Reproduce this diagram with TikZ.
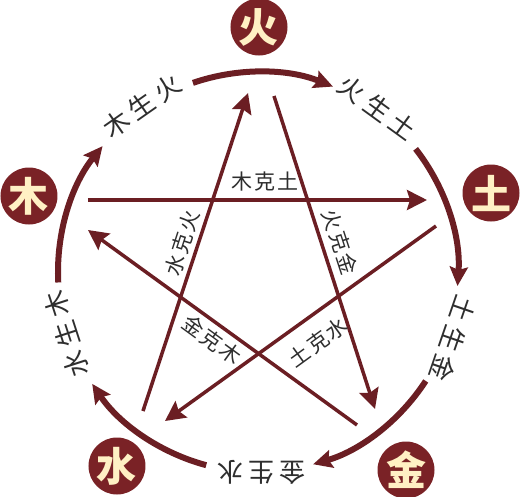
\documentclass[tikz,border=0pt]{standalone}
\usepackage{fontspec}
\usepackage{xcolor}
\usetikzlibrary{arrows.meta}
\newfontfamily\cjk{Noto Sans CJK SC}
\newfontfamily\cjkarc[LetterSpace=20]{Noto Sans CJK SC}
\newfontfamily\cjkke[LetterSpace=10]{Noto Sans CJK SC}
\definecolor{wxfill}{HTML}{7A2226}
\definecolor{wxline}{HTML}{6B1E23}
\definecolor{wxtext}{HTML}{FFF0C4}
\definecolor{wxlabel}{HTML}{2E2E2E}
\tikzstyle{element} = [circle, minimum size=57pt, inner sep=0pt, fill=wxfill, text=wxtext, font=\cjk\bfseries\fontsize{40}{40}\selectfont]
\tikzstyle{sheng} = [line width=6pt, draw=wxline, -{Stealth[length=19pt,width=18pt,inset=3pt]}]
\tikzstyle{ke} = [line width=3.5pt, draw=wxline, -{Stealth[length=20pt,width=20pt,inset=3pt]}]
\tikzstyle{shenglabel} = [inner sep=0pt, text=wxlabel, font=\cjkarc\fontsize{26}{26}\selectfont]
\tikzstyle{kelabel} = [inner sep=0pt, text=wxlabel, font=\cjkke\fontsize{21}{21}\selectfont]

\begin{document}
\begin{tikzpicture}[x=1pt, y=1pt]
\useasboundingbox[fill=white] (-258,-224) rectangle (272,272);

\node (huo) [element] at (1,245) {火};
\node (mu) [element] at (-229,76) {木};
\node (tu) [element] at (233,79) {土};
\node (shui) [element] at (-141,-194) {水};
\node (jin) [element] at (148,-198) {金};

\coordinate (muhuo) at (183:200);
\coordinate (huotu) at (109:200);
\coordinate (tujin) at (38:200);
\coordinate (jinshui) at (-33:200);
\coordinate (shuimu) at (-105:200);
\draw [sheng] (muhuo) arc[start angle=183, end angle=141, radius=200pt];
\draw [sheng] (huotu) arc[start angle=109, end angle=68, radius=200pt];
\draw [sheng] (tujin) arc[start angle=38, end angle=-4, radius=200pt];
\draw [sheng] (jinshui) arc[start angle=-33, end angle=-74, radius=200pt];
\draw [sheng] (shuimu) arc[start angle=-105, end angle=-146, radius=200pt];

\node (muhuolabel) [shenglabel, rotate=35] at (125:203) {木生火};
\node (huotulabel) [shenglabel, rotate=-36] at (54:203) {火生土};
\node (tujinlabel) [shenglabel, rotate=-109] at (-19:206) {土生金};
\node (jinshuilabel) [shenglabel, rotate=-180] at (-89:201) {金生水};
\node (shuimulabel) [shenglabel, rotate=108] at (-162:201) {水生木};

\coordinate (mustart) at (-170,72);
\coordinate (tuend) at (169,72);
\coordinate (shuistart) at (-115,-139);
\coordinate (huoend) at (-10,179);
\coordinate (huostart) at (16,176);
\coordinate (jinend) at (117,-137);
\coordinate (tustart) at (178,46);
\coordinate (shuiend) at (-93,-149);
\coordinate (jinstart) at (99,-153);
\coordinate (muend) at (-170,42);
\draw [ke] (mustart) -- (tuend);
\draw [ke] (shuistart) -- (huoend);
\draw [ke] (huostart) -- (jinend);
\draw [ke] (tustart) -- (shuiend);
\draw [ke] (jinstart) -- (muend);

\node (mutulabel) [kelabel] at (7,90) {木克土};
\node (shuihuolabel) [kelabel, rotate=72] at (-76,29) {水克火};
\node (huojinlabel) [kelabel, rotate=-72] at (82,30) {火克金};
\node (jinmulabel) [kelabel, rotate=-36] at (-46,-68) {金克木};
\node (tushuilabel) [kelabel, rotate=36] at (60,-70) {土克水};
\end{tikzpicture}
\end{document}
